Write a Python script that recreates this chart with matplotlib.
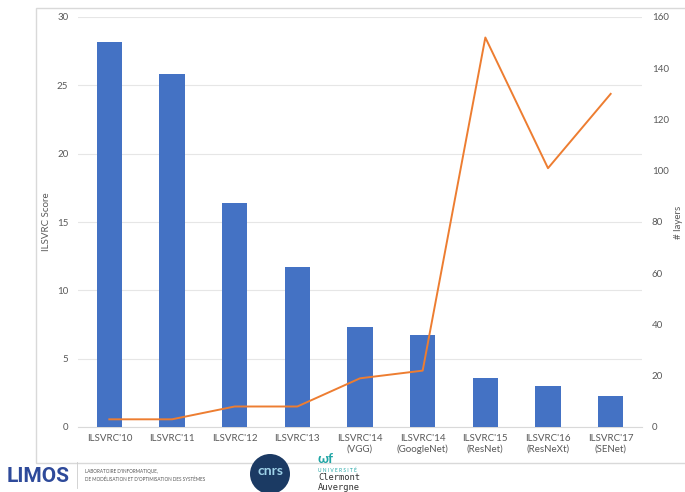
import matplotlib
matplotlib.use("Agg")
import matplotlib.pyplot as plt
from matplotlib.patches import Rectangle, Ellipse
import numpy as np

categories = ["ILSVRC'10", "ILSVRC'11", "ILSVRC'12", "ILSVRC'13", "ILSVRC'14\n(VGG)",
              "ILSVRC'14\n(GoogleNet)", "ILSVRC'15\n(ResNet)", "ILSVRC'16\n(ResNeXt)", "ILSVRC'17\n(SENet)"]
scores = [28.2, 25.8, 16.4, 11.7, 7.3, 6.7, 3.57, 3.0, 2.25]
layers = [3, 3, 8, 8, 19, 22, 152, 101, 130]
left_ticks = [0, 5, 10, 15, 20, 25, 30]
right_ticks = [0, 20, 40, 60, 80, 100, 120, 140, 160]

plt.rcParams['font.family'] = ['Lato', 'DejaVu Sans']
W, H = 685, 492
fig = plt.figure(figsize=(W/100, H/100), dpi=100)

def fx(px): return px / W
def fy(py): return 1 - py / H

# chart frame
fig.patches.append(Rectangle((fx(36), fy(463)), fx(700) - fx(36), fy(8) - fy(463),
                             transform=fig.transFigure, fill=False, edgecolor='#D9D9D9', lw=1.0))

ax = fig.add_axes([fx(78), fy(427), fx(642) - fx(78), fy(17) - fy(427)])
x = np.arange(len(categories))
ax.bar(x, scores, width=0.4, color='#4472C4', zorder=3)
ax.set_ylim(0, 30)
ax.set_xlim(-0.5, len(categories) - 0.5)
ax.set_yticks(left_ticks)
ax.set_xticks(x)
ax.set_xticklabels(categories, fontsize=7, color='#595959')
ax.tick_params(axis='both', length=0, colors='#595959', labelsize=7)
ax.tick_params(axis='x', pad=5)
ax.tick_params(axis='y', pad=7)
ax.grid(axis='y', color='#E6E6E6', lw=0.8, zorder=0)
for s in ax.spines.values():
    s.set_visible(False)
ax.spines['bottom'].set_visible(True)
ax.spines['bottom'].set_color('#D9D9D9')
ax.set_ylabel('ILSVRC Score', fontsize=7, color='#595959')
ax.yaxis.set_label_coords((51 - 78) / 564, 0.5)

ax2 = ax.twinx()
ax2.plot(x, layers, color='#ED7D31', lw=1.4, zorder=4)
ax2.set_ylim(0, 160)
ax2.set_yticks(right_ticks)
ax2.tick_params(axis='y', length=0, colors='#595959', labelsize=7, pad=7)
for s in ax2.spines.values():
    s.set_visible(False)
ax2.set_ylabel('# layers', fontsize=7, color='#595959')
ax2.yaxis.set_label_coords((674 - 78) / 564, 0.5)

# logos (approximation)
fig.text(fx(7), fy(477), 'LIMOS', fontsize=15, fontweight='bold', color='#2E4A9A',
         va='center', ha='left', family=['Roboto', 'DejaVu Sans'])
fig.add_artist(plt.Line2D([fx(77), fx(77)], [fy(462), fy(488)], transform=fig.transFigure,
                          color='#CCCCCC', lw=0.6))
fig.text(fx(85), fy(472), "LABORATOIRE D'INFORMATIQUE,", fontsize=3.3, color='#555555', va='center')
fig.text(fx(85), fy(479), "DE MODÉLISATION ET D'OPTIMISATION DES SYSTÈMES", fontsize=3.3,
         color='#555555', va='center')
fig.patches.append(Ellipse((fx(270), fy(474)), 40 / W, 40 / H, transform=fig.transFigure,
                           facecolor='#1B3A63', edgecolor='none'))
fig.text(fx(270), fy(471), 'cnrs', fontsize=10, color='#9FD3EA', ha='center', va='center',
         fontweight='bold')
fig.text(fx(318), fy(459), 'ωf', fontsize=10, color='#1FA5A5', ha='left', va='center', fontweight='bold')
fig.text(fx(318), fy(470.5), 'U N I V E R S I T É', fontsize=3.5, color='#1FA5A5', va='center')
fig.text(fx(318), fy(478), 'Clermont', fontsize=6.3, color='#333333', va='center', family=['DejaVu Sans Mono'])
fig.text(fx(318), fy(487), 'Auvergne', fontsize=6.3, color='#333333', va='center', family=['DejaVu Sans Mono'])

fig.savefig('out.png', dpi=100)
